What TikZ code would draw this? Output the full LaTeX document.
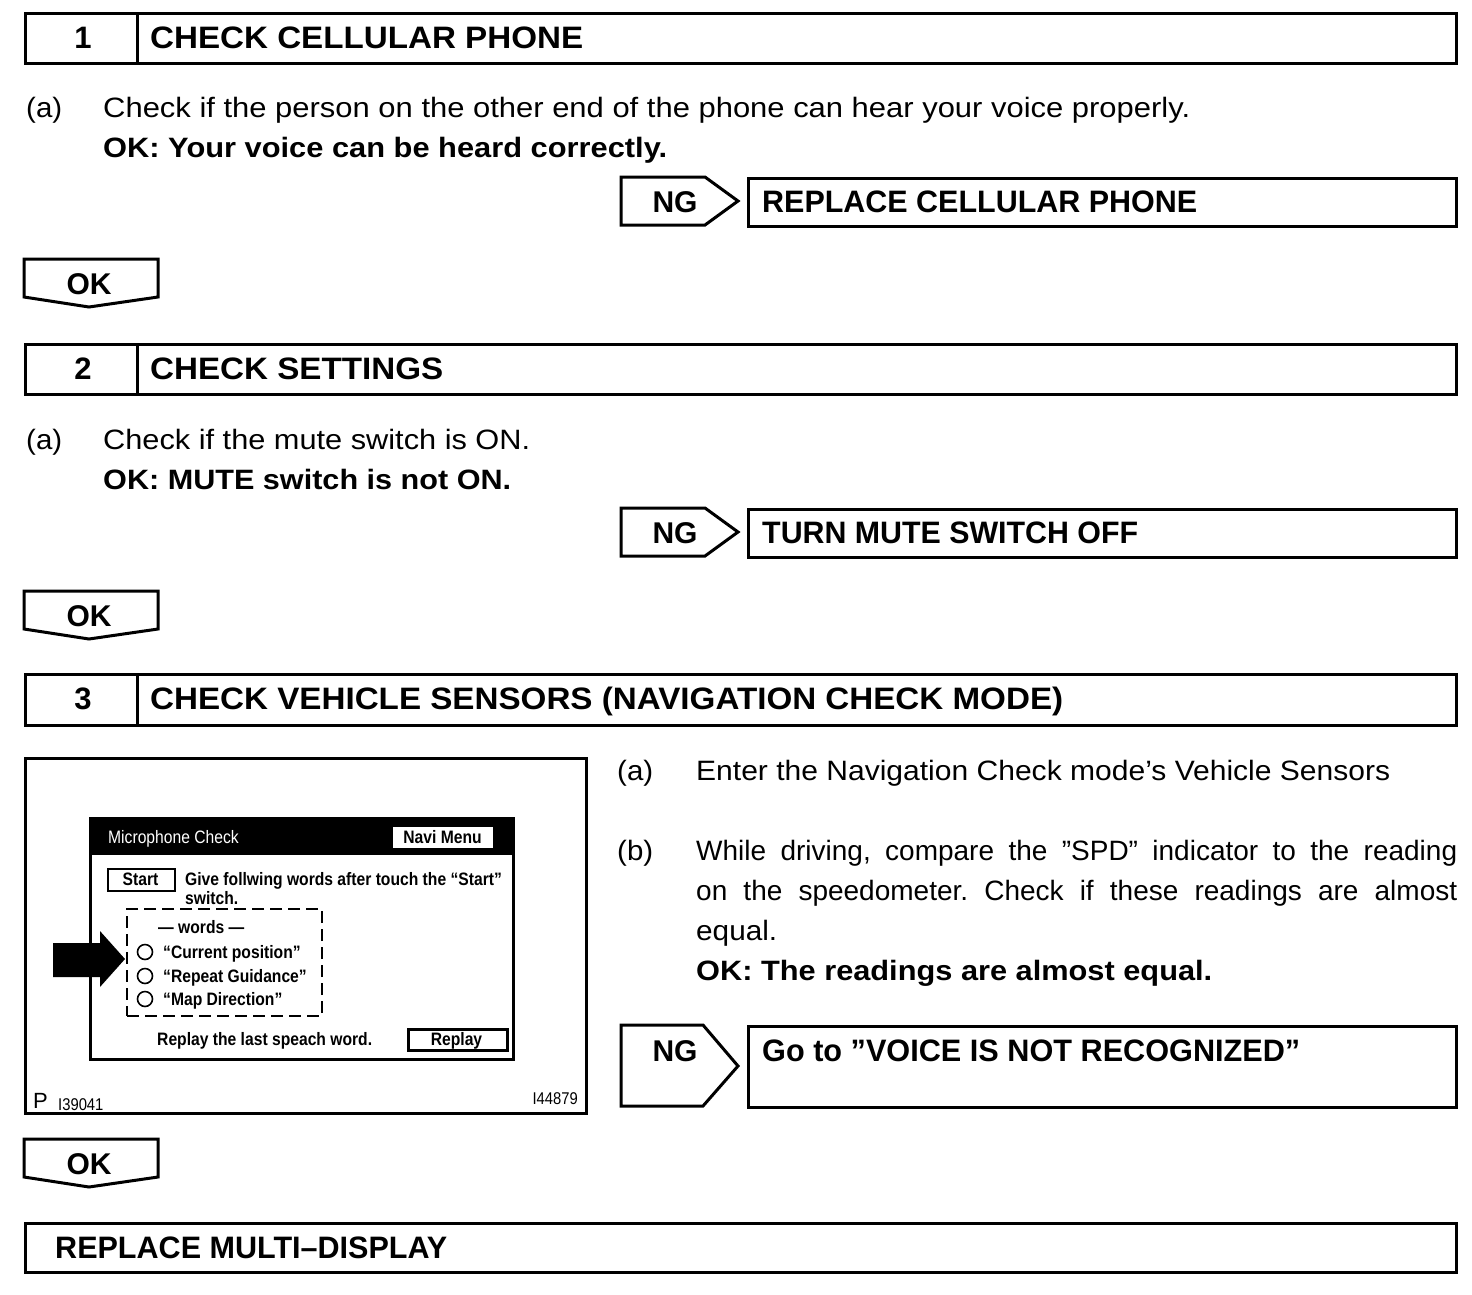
\documentclass[tikz,border=0pt]{standalone}
\usepackage{fontspec}
\setmainfont{Liberation Sans}
\newfontfamily\scrfont[FakeStretch=0.87]{Liberation Sans}
\newcommand\fitto[2]{\resizebox{#1}{\height}{#2}}
\frenchspacing
\begin{document}
\begin{tikzpicture}[x=1pt,y=-1pt,line join=miter]
\useasboundingbox (0,0) rectangle (1472,1294);
\tikzset{
 frame/.style={draw, line width=3pt, inner sep=0pt, anchor=north west},
 hd/.style={font=\fontsize{31}{31}\selectfont\bfseries, anchor=base west, inner sep=0pt},
 hdnum/.style={font=\fontsize{31}{31}\selectfont\bfseries, anchor=base, inner sep=0pt},
 body/.style={font=\fontsize{28}{28}\selectfont, anchor=base west, inner sep=0pt},
 bodyb/.style={font=\fontsize{28}{28}\selectfont\bfseries, anchor=base west, inner sep=0pt},
 okt/.style={font=\fontsize{30}{30}\selectfont\bfseries, anchor=base, inner sep=0pt},
 shape3/.style={draw, line width=3pt},
 scr/.style={font=\scrfont\bfseries\fontsize{18}{18}\selectfont, anchor=base west, inner sep=0pt},
 okpic/.pic={
   \draw[shape3] (0,0) -- (134,0) -- (134,38) -- (65,48) -- (0,38) -- cycle;
   \node[okt] (-t) at (65,35) {OK};
 }
}
% ---------- Step 1
\node[frame, minimum width=112pt, minimum height=50pt] (n1) at (24,12) {};
\node[frame, minimum width=1319pt, minimum height=50pt] (t1) at (136,12) {};
\node[hdnum] (n1t) at (83,48) {1};
\node[hd] (t1t) at (150,48) {\fitto{433pt}{CHECK CELLULAR PHONE}};
\node[body] (a1) at (26,117) {\fitto{36pt}{(a)}};
\node[body] (a1t) at (103,117) {\fitto{1087pt}{Check if the person on the other end of the phone can hear your voice properly.}};
\node[bodyb] (ok1t) at (103,157) {\fitto{564pt}{OK: Your voice can be heard correctly.}};
\draw[shape3] (621,177) -- (705,177) -- (738,201) -- (705,225) -- (621,225) -- cycle;
\node[okt] (ng1) at (675,212) {NG};
\node[frame, minimum width=708pt, minimum height=48pt] (r1) at (747,177) {};
\node[hd] (r1t) at (762,212) {\fitto{435pt}{REPLACE CELLULAR PHONE}};
\pic (ok1) at (24,259) {okpic};
% ---------- Step 2
\node[frame, minimum width=112pt, minimum height=50pt] (n2) at (24,343) {};
\node[frame, minimum width=1319pt, minimum height=50pt] (t2) at (136,343) {};
\node[hdnum] (n2t) at (83,379) {2};
\node[hd] (t2t) at (150,379) {\fitto{293pt}{CHECK SETTINGS}};
\node[body] (a2) at (26,449) {\fitto{36pt}{(a)}};
\node[body] (a2t) at (103,449) {\fitto{427pt}{Check if the mute switch is ON.}};
\node[bodyb] (ok2t) at (103,489) {\fitto{408pt}{OK: MUTE switch is not ON.}};
\draw[shape3] (621,508) -- (705,508) -- (738,532) -- (705,556) -- (621,556) -- cycle;
\node[okt] (ng2) at (675,543) {NG};
\node[frame, minimum width=708pt, minimum height=48pt] (r2) at (747,508) {};
\node[hd] (r2t) at (762,543) {\fitto{376pt}{TURN MUTE SWITCH OFF}};
\pic (ok2) at (24,591) {okpic};
% ---------- Step 3
\node[frame, minimum width=112pt, minimum height=51pt] (n3) at (24,673) {};
\node[frame, minimum width=1319pt, minimum height=51pt] (t3) at (136,673) {};
\node[hdnum] (n3t) at (83,709) {3};
\node[hd] (t3t) at (150,709) {\fitto{913pt}{CHECK VEHICLE SENSORS (NAVIGATION CHECK MODE)}};
% illustration
\node[frame, minimum width=561pt, minimum height=355pt] (img) at (24,757) {};
\node[frame, minimum width=423pt, minimum height=241pt] (scrn) at (89,817) {};
\fill[black] (89,817) rectangle (512,855);
\node[scr, text=white, font=\scrfont\fontsize{18}{18}\selectfont] (mc) at (108,843) {Microphone Check};
\node[frame, fill=white, line width=1pt, minimum width=101pt, minimum height=22pt] (navi) at (392,826) {};
\node[scr, anchor=base] (navit) at (442.5,843) {Navi Menu};
\node[frame, line width=2pt, minimum width=67pt, minimum height=22pt] (start) at (107,868) {};
\node[scr, anchor=base] (startt) at (140.5,885) {Start};
\node[scr] (give1) at (185,885) {Give follwing words after touch the “Start”};
\node[scr] (give2) at (185,904) {switch.};
\node[frame, line width=2pt, dash pattern=on 12pt off 6pt, minimum width=195pt, minimum height=107pt] (words) at (126,908) {};
\node[scr] (wt) at (158,933) {— words —};
\foreach \yy/\tx [count=\i] in {952/“Current position”, 976/“Repeat Guidance”, 999/“Map Direction”}{
  \node[draw, circle, line width=1.6pt, minimum size=15pt, inner sep=0pt] (c\i) at (145,\yy) {};
  \node[scr] (w\i) at (163,\yy+6) {\tx};
}
\fill[black] (53,943) -- (100,943) -- (100,931) -- (125,959) -- (100,987) -- (100,977) -- (53,977) -- cycle;
\node[scr] (rep) at (157,1045) {Replay the last speach word.};
\node[frame, line width=2.5pt, minimum width=99pt, minimum height=21pt] (repb) at (407,1028) {};
\node[scr, anchor=base] (repbt) at (456.5,1045) {Replay};
\node[font=\fontsize{22}{22}\selectfont, anchor=base west, inner sep=0pt] (p) at (33,1108) {P};
\node[font=\scrfont\fontsize{17}{17}\selectfont, anchor=base west, inner sep=0pt] (pn) at (58,1110) {I39041};
\node[font=\scrfont\fontsize{17}{17}\selectfont, anchor=base east, inner sep=0pt] (in) at (578,1104) {I44879};
% right column
\node[body] (a3) at (617,780) {\fitto{36pt}{(a)}};
\node[body] (a3t) at (696,780) {\fitto{694pt}{Enter the Navigation Check mode’s Vehicle Sensors}};
\node[body] (b3) at (617,860) {\fitto{36pt}{(b)}};
\node[body] (b3t1) at (696,860) {\makebox[761pt][s]{While driving, compare the ”SPD” indicator to the reading}};
\node[body] (b3t2) at (696,900) {\makebox[761pt][s]{on the speedometer. Check if these readings are almost}};
\node[body] (b3t3) at (696,940) {\fitto{81pt}{equal.}};
\node[bodyb] (ok3t) at (696,980) {\fitto{516pt}{OK: The readings are almost equal.}};
\draw[shape3] (621,1025) -- (703,1025) -- (738,1066) -- (703,1106) -- (621,1106) -- cycle;
\node[okt] (ng3) at (675,1061) {NG};
\node[frame, minimum width=708pt, minimum height=81pt] (r3) at (747,1025) {};
\node[hd] (r3t) at (762,1061) {\fitto{538pt}{Go to ”VOICE IS NOT RECOGNIZED”}};
\pic (ok3) at (24,1139) {okpic};
% final
\node[frame, minimum width=1431pt, minimum height=49pt] (fin) at (24,1222) {};
\node[hd] (fint) at (55,1258) {\fitto{392pt}{REPLACE MULTI–DISPLAY}};
\end{tikzpicture}
\end{document}
